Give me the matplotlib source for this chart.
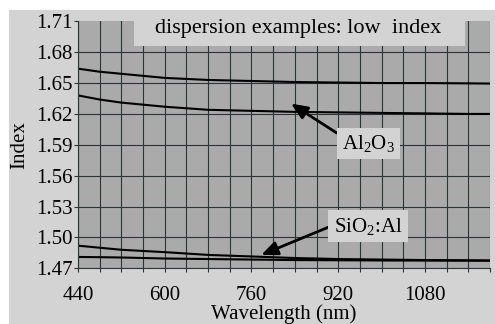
import matplotlib.pyplot as plt
from matplotlib.patches import Rectangle

wl = [440, 480, 520, 600, 680, 760, 840, 920, 1000, 1080, 1160, 1200]
al2o3_a = [1.664, 1.661, 1.659, 1.655, 1.653, 1.652, 1.651, 1.6505, 1.650, 1.650, 1.6497, 1.6495]
al2o3_b = [1.638, 1.634, 1.631, 1.627, 1.624, 1.623, 1.622, 1.6215, 1.621, 1.6205, 1.620, 1.620]
sio2_a = [1.492, 1.490, 1.488, 1.4857, 1.483, 1.4815, 1.480, 1.479, 1.4785, 1.478, 1.4778, 1.4776]
sio2_b = [1.481, 1.4808, 1.4805, 1.4795, 1.479, 1.4785, 1.478, 1.4778, 1.4776, 1.4775, 1.4774, 1.4774]
xticks = [440, 600, 760, 920, 1080]
yticks = [1.47, 1.50, 1.53, 1.56, 1.59, 1.62, 1.65, 1.68, 1.71]

plt.rcParams['font.family'] = 'Liberation Serif'
plt.rcParams['mathtext.fontset'] = 'custom'
plt.rcParams['mathtext.rm'] = 'Liberation Serif'
plt.rcParams['mathtext.it'] = 'Liberation Serif:italic'
bg = '#d3d3d3'
fs = 15

fig = plt.figure(figsize=(4.95, 3.24), dpi=100)
fig.patch.set_facecolor('white')
fig.patches.append(Rectangle((9/495, 0), 1, 1 - 10/324, transform=fig.transFigure,
                             facecolor=bg, edgecolor='none', zorder=-10))

ax = fig.add_axes([78/495, 55.7/324, 412/495, 247/324])
ax.set_facecolor('#a9aaa9')
ax.plot(wl, al2o3_a, color='black', lw=1.5)
ax.plot(wl, al2o3_b, color='black', lw=1.5)
ax.plot(wl, sio2_a, color='black', lw=1.5)
ax.plot(wl, sio2_b, color='black', lw=1.5)

ax.set_xlim(440, 1200)
ax.set_ylim(1.47, 1.71)
ax.set_xticks(xticks)
ax.set_xticks(range(440, 1201, 40), minor=True)
ax.set_xticklabels([str(t) for t in xticks])
ax.set_yticks(yticks)
ax.set_yticklabels(['%.2f' % t for t in yticks])
ax.tick_params(axis='both', labelsize=fs, color='#2a3636', length=3, width=0.8)
ax.tick_params(axis='x', which='minor', length=3, color='#2a3636', width=0.8)
ax.tick_params(axis='y', pad=1)
ax.tick_params(axis='x', pad=10)
ax.grid(True, which='both', color='#2a3636', lw=0.8)
for s in ['top', 'right']:
    ax.spines[s].set_visible(False)
for s in ['left', 'bottom']:
    ax.spines[s].set_color('#2a3636')
    ax.spines[s].set_linewidth(0.8)
ax.set_axisbelow(True)
ax.yaxis.get_gridlines()[-1].set_visible(False)

ax.set_xlabel('Wavelength (nm)', fontsize=fs, labelpad=-1)
ax.set_ylabel('Index', fontsize=fs, labelpad=5)

ax.annotate('Al$_2$O$_3$', xy=(833, 1.630), xytext=(976, 1.591),
            ha='center', va='center', fontsize=fs,
            bbox=dict(boxstyle='square,pad=0.25', fc=bg, ec='none'),
            arrowprops=dict(arrowstyle='-|>,head_width=0.3,head_length=0.7', color='black',
                            lw=2, mutation_scale=14, shrinkA=0, shrinkB=0, relpos=(0, 0.85)))
ax.annotate('SiO$_2$:Al', xy=(778, 1.483), xytext=(975, 1.511),
            ha='center', va='center', fontsize=fs,
            bbox=dict(boxstyle='square,pad=0.25', fc=bg, ec='none'),
            arrowprops=dict(arrowstyle='-|>,head_width=0.3,head_length=0.7', color='black',
                            lw=2, mutation_scale=14, shrinkA=0, shrinkB=0, relpos=(0, 0.55)))

fig.patches.append(Rectangle((134/495, 1 - 46/324), 331/495, 36/324, transform=fig.transFigure,
                             facecolor=bg, edgecolor='none', zorder=5))
fig.text(298/495, 1 - 29/324, 'dispersion examples: low  index', ha='center', va='center',
         fontsize=16, zorder=6)

fig.savefig('out.png', dpi=100)
